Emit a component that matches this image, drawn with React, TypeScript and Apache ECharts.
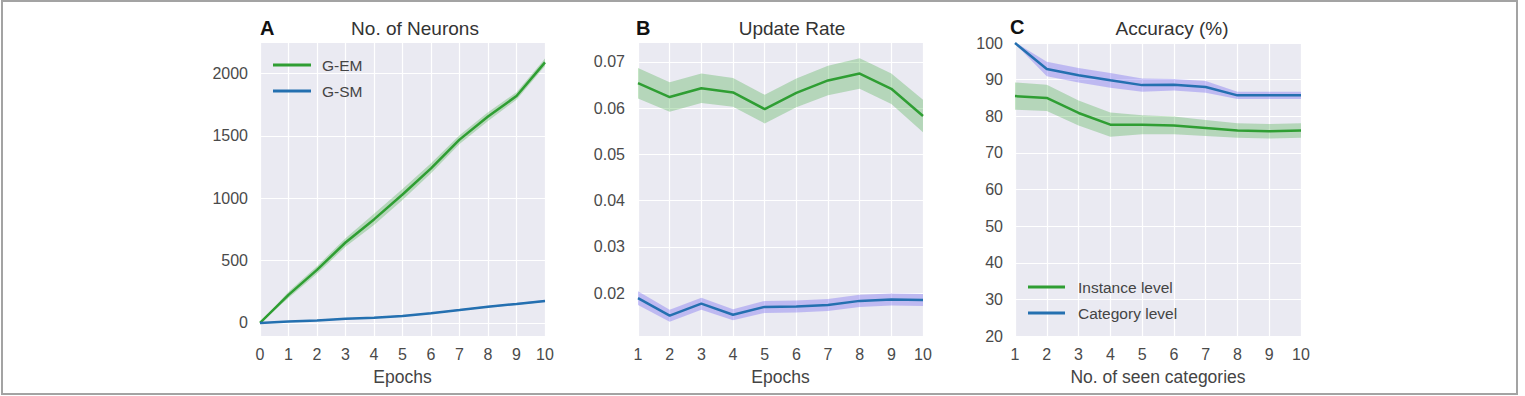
import React, { useEffect, useRef } from "react";
import * as echarts from "echarts";

// Panel A: No. of Neurons
const epochsA = [0, 1, 2, 3, 4, 5, 6, 7, 8, 9, 10];
const neuronsGEM = [0, 225, 425, 645, 830, 1030, 1240, 1470, 1655, 1820, 2090];
const neuronsGEMSpread = [0, 25, 30, 35, 45, 45, 40, 35, 35, 30, 30];
const neuronsGSM = [0, 12, 20, 33, 42, 55, 78, 103, 130, 152, 175];
const neuronsGSMSpread = [0, 3, 4, 5, 5, 6, 6, 6, 7, 7, 8];
const neuronsTicks = [0, 500, 1000, 1500, 2000];

// Panel B: Update Rate
const epochsB = [1, 2, 3, 4, 5, 6, 7, 8, 9, 10];
const rateGEM = [0.0654, 0.0624, 0.0643, 0.0634, 0.0598, 0.0633, 0.066, 0.0675, 0.0642, 0.0583];
const rateGEMSpread = [0.0033, 0.0032, 0.0032, 0.0031, 0.0031, 0.0031, 0.0032, 0.0033, 0.0033, 0.0035];
const rateGSM = [0.0189, 0.0151, 0.0177, 0.0153, 0.017, 0.0171, 0.0174, 0.0183, 0.0186, 0.0185];
const rateGSMSpread = [0.0015, 0.0013, 0.0013, 0.0012, 0.0013, 0.0013, 0.0013, 0.0013, 0.0013, 0.0013];
const rateTicks = [0.02, 0.03, 0.04, 0.05, 0.06, 0.07];

// Panel C: Accuracy
const seenCategories = [1, 2, 3, 4, 5, 6, 7, 8, 9, 10];
const accInstance = [85.5, 85.0, 80.9, 77.7, 77.7, 77.5, 76.8, 76.1, 75.9, 76.1];
const accInstanceSpread = [3.7, 3.6, 3.4, 3.3, 2.6, 2.4, 2.2, 2.0, 2.0, 2.0];
const accCategory = [100, 92.9, 91.2, 89.8, 88.5, 88.6, 88.0, 85.7, 85.7, 85.7];
const accCategorySpread = [0.2, 2.0, 2.0, 2.0, 1.8, 1.6, 1.6, 1.0, 1.0, 1.0];

const GREEN = "#2f9e33";
const BLUE = "#2470b0";
const GREEN_BAND = "rgba(44,160,44,0.28)";
const BLUE_BAND = "rgba(110,95,240,0.35)";
const FONT = "Liberation Sans";
const BG = "#eaeaf2";
const TICK_COLOR = "#4a4a4a";

function bandSeries(idx: number, xs: number[], mean: number[], spread: number[], color: string) {
  const data = xs.map((x, i) => [x, mean[i] - spread[i], mean[i] + spread[i]]);
  return {
    type: "custom",
    xAxisIndex: idx,
    yAxisIndex: idx,
    silent: true,
    clip: true,
    z: 1,
    encode: { x: 0, y: [1, 2] },
    data,
    renderItem: (params: any, api: any) => {
      if (params.dataIndex !== 0) return null;
      const lower = data.map((d) => api.coord([d[0], d[1]]));
      const upper = data.map((d) => api.coord([d[0], d[2]])).reverse();
      return {
        type: "polygon",
        shape: { points: lower.concat(upper) },
        style: { fill: color, stroke: "none" },
      };
    },
  };
}

function lineSeries(name: string, idx: number, xs: number[], ys: number[], color: string) {
  return {
    type: "line",
    name,
    xAxisIndex: idx,
    yAxisIndex: idx,
    symbol: "none",
    color,
    itemStyle: { color },
    lineStyle: { color, width: 2.5 },
    data: xs.map((x, i) => [x, ys[i]]),
    z: 3,
  };
}

const grids = [
  { left: 260, top: 43, width: 285, height: 293 },
  { left: 638, top: 43, width: 285, height: 293 },
  { left: 1015, top: 43, width: 286, height: 293 },
];

function xAxisOf(idx: number, min: number, name: string) {
  return {
    type: "value",
    gridIndex: idx,
    min,
    max: 10,
    interval: 1,
    name,
    nameLocation: "middle",
    nameGap: 32,
    nameTextStyle: { fontFamily: FONT, fontSize: 17.5, color: "#444" },
    axisLine: { show: false },
    axisTick: { show: false },
    axisLabel: { fontFamily: FONT, fontSize: 16, color: TICK_COLOR, margin: 10 },
    splitLine: { show: true, lineStyle: { color: "#ffffff", width: 1.2 } },
  };
}

export default function App() {
  const ref = useRef<HTMLDivElement>(null);
  useEffect(() => {
    document.body.style.margin = "0";
    const chart = echarts.init(ref.current!, null, { renderer: "svg" });
    const option: any = {
      animation: false,
      backgroundColor: "#ffffff",
      grid: grids.map((g) => ({ ...g, show: true, backgroundColor: BG, borderWidth: 0 })),
      xAxis: [
        xAxisOf(0, 0, "Epochs"),
        xAxisOf(1, 1, "Epochs"),
        xAxisOf(2, 1, "No. of seen categories"),
      ],
      yAxis: [
        {
          type: "value",
          gridIndex: 0,
          min: -105,
          max: 2245,
          axisLine: { show: false },
          axisTick: { show: false, customValues: neuronsTicks },
          axisLabel: {
            fontFamily: FONT,
            fontSize: 16,
            color: TICK_COLOR,
            margin: 12,
            customValues: neuronsTicks,
            formatter: (v: number) => String(v),
          },
          splitLine: { show: true, lineStyle: { color: "#ffffff", width: 1.2 } },
        },
        {
          type: "value",
          gridIndex: 1,
          min: 0.0107,
          max: 0.0741,
          axisLine: { show: false },
          axisTick: { show: false, customValues: rateTicks },
          axisLabel: {
            fontFamily: FONT,
            fontSize: 16,
            color: TICK_COLOR,
            margin: 13,
            customValues: rateTicks,
            formatter: (v: number) => v.toFixed(2),
          },
          splitLine: { show: true, lineStyle: { color: "#ffffff", width: 1.2 } },
        },
        {
          type: "value",
          gridIndex: 2,
          min: 20,
          max: 100,
          interval: 10,
          axisLine: { show: false },
          axisTick: { show: false },
          axisLabel: { fontFamily: FONT, fontSize: 16, color: TICK_COLOR, margin: 12 },
          splitLine: { show: true, lineStyle: { color: "#ffffff", width: 1.2 } },
        },
      ],
      legend: [
        {
          data: ["G-EM", "G-SM"],
          orient: "vertical",
          left: 268,
          top: 52,
          itemWidth: 38,
          itemHeight: 3,
          itemGap: 10,
          icon: "rect",
          textStyle: { fontFamily: FONT, fontSize: 15.5, color: "#444", padding: [0, 0, 0, 6] },
        },
        {
          data: ["Instance level", "Category level"],
          orient: "vertical",
          left: 1023,
          top: 274,
          itemWidth: 37,
          itemHeight: 3,
          itemGap: 10,
          icon: "rect",
          textStyle: { fontFamily: FONT, fontSize: 15.5, color: "#444", padding: [0, 0, 0, 8] },
        },
      ],
      graphic: [
        {
          type: "rect",
          shape: { x: 2, y: 1, width: 1515, height: 393 },
          style: { fill: "none", stroke: "#a3a3a3", lineWidth: 2 },
        },
        { type: "text", x: 260, y: 28, style: { text: "A", font: `bold 20px ${FONT}`, fill: "#111", textVerticalAlign: "middle" } },
        { type: "text", x: 415, y: 28, style: { text: "No. of Neurons", font: `19px ${FONT}`, fill: "#333", textAlign: "center", textVerticalAlign: "middle" } },
        { type: "text", x: 636, y: 28, style: { text: "B", font: `bold 20px ${FONT}`, fill: "#111", textVerticalAlign: "middle" } },
        { type: "text", x: 792, y: 28, style: { text: "Update Rate", font: `19px ${FONT}`, fill: "#333", textAlign: "center", textVerticalAlign: "middle" } },
        { type: "text", x: 1010, y: 27, style: { text: "C", font: `bold 20px ${FONT}`, fill: "#111", textVerticalAlign: "middle" } },
        { type: "text", x: 1172, y: 28, style: { text: "Accuracy (%)", font: `19px ${FONT}`, fill: "#333", textAlign: "center", textVerticalAlign: "middle" } },
      ],
      series: [
        bandSeries(0, epochsA, neuronsGEM, neuronsGEMSpread, GREEN_BAND),
        bandSeries(0, epochsA, neuronsGSM, neuronsGSMSpread, BLUE_BAND),
        lineSeries("G-EM", 0, epochsA, neuronsGEM, GREEN),
        lineSeries("G-SM", 0, epochsA, neuronsGSM, BLUE),
        bandSeries(1, epochsB, rateGEM, rateGEMSpread, GREEN_BAND),
        bandSeries(1, epochsB, rateGSM, rateGSMSpread, BLUE_BAND),
        lineSeries("G-EM", 1, epochsB, rateGEM, GREEN),
        lineSeries("G-SM", 1, epochsB, rateGSM, BLUE),
        bandSeries(2, seenCategories, accInstance, accInstanceSpread, GREEN_BAND),
        bandSeries(2, seenCategories, accCategory, accCategorySpread, BLUE_BAND),
        lineSeries("Instance level", 2, seenCategories, accInstance, GREEN),
        lineSeries("Category level", 2, seenCategories, accCategory, BLUE),
      ],
    };
    chart.setOption(option);
    return () => chart.dispose();
  }, []);
  return <div ref={ref} style={{ position: "fixed", left: 0, top: 0, width: 1525, height: 396 }} />;
}
